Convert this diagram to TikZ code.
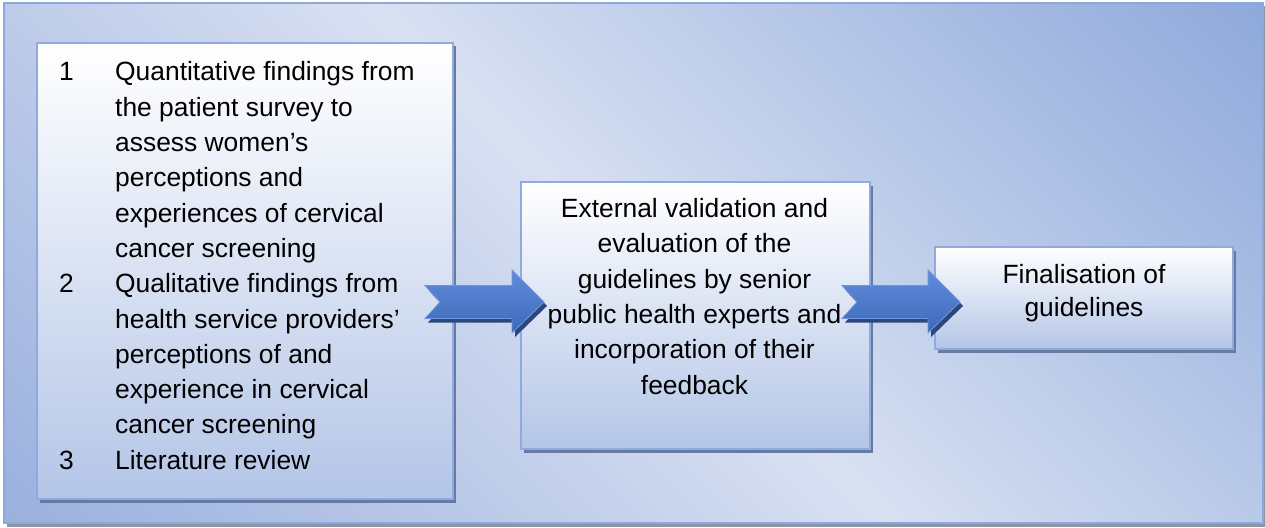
\documentclass[tikz,border=0pt]{standalone}
\usepackage{fontspec}
\setmainfont{Liberation Sans}
\usetikzlibrary{calc,shadows}
\definecolor{bgA}{HTML}{9AB0DE}
\definecolor{bgM}{HTML}{D8E0F2}
\definecolor{bgB}{HTML}{8EA9DB}
\definecolor{frameC}{HTML}{8DA8DB}
\definecolor{frameShadow}{HTML}{8C95A6}
\definecolor{boxBorder}{HTML}{8FAADC}
\definecolor{boxBottom}{HTML}{B4C5E7}
\definecolor{boxShadow}{HTML}{677AA2}
\definecolor{arrTop}{HTML}{608CDA}
\definecolor{arrBot}{HTML}{3D69BB}
\definecolor{arrEdge}{HTML}{6F96DC}
\definecolor{arrShadow}{HTML}{2A4780}
\pgfdeclarehorizontalshading{bgshade}{100bp}{color(0bp)=(bgA); color(14.6bp)=(bgA); color(50bp)=(bgM); color(85.4bp)=(bgB); color(100bp)=(bgB)}
\newcommand\arrowshape[2]{%
  \fill[arrowshadow] ($(#1)+(3,12.5)$) -- ($(#2)+(-29,12.5)$) -- ($(#2)+(-29,28)$) -- ($(#2)+(3,-4)$) -- ($(#2)+(-29,-35)$) -- ($(#2)+(-29,-20.5)$) -- ($(#1)+(3,-20.5)$) -- ($(#1)+(18,-4)$) -- cycle;
  \draw[arrowbody] ($(#1)+(0,16.5)$) -- ($(#2)+(-32,16.5)$) -- ($(#2)+(-32,32)$) -- (#2) -- ($(#2)+(-32,-31)$) -- ($(#2)+(-32,-16.5)$) -- ($(#1)+(0,-16.5)$) -- ($(#1)+(15,0)$) -- cycle;
}
\begin{document}
\begin{tikzpicture}[x=1pt,y=1pt,
  stepbox/.style={draw=boxBorder, line width=2pt, outer sep=0pt, inner sep=0pt,
    top color=white, bottom color=boxBottom,
    drop shadow={shadow xshift=2.5pt, shadow yshift=-3.5pt, fill=boxShadow, opacity=1}},
  body/.style={font=\fontsize{26.4}{35.3}\selectfont, inner sep=0pt, text=black},
  arrowbody/.style={top color=arrTop, bottom color=arrBot, draw=arrEdge, line width=0.8pt, line join=miter},
  arrowshadow/.style={fill=arrShadow}]
\useasboundingbox (0,0) rectangle (1265,-527);
% frame
\fill[frameShadow] (7,-6) rectangle (1266,-527);
\draw[frameC, line width=2pt, shading=bgshade, shading angle=45] (4,-3) rectangle (1263,-523);
% boxes
\node[stepbox, minimum width=416pt, minimum height=456pt] (b1) at (245,-271) {};
\node[stepbox, minimum width=349pt, minimum height=267pt] (b2) at (695.5,-315.5) {};
\node[stepbox, minimum width=298pt, minimum height=102pt] (b3) at (1084,-298) {};
% texts
\node[body, anchor=west] (t1) at (59,-268) {\begin{tabular}{@{}p{56pt}@{}l@{}}
1 & Quantitative findings from\\
  & the patient survey to\\
  & assess women’s\\
  & perceptions and\\
  & experiences of cervical\\
  & cancer screening\\
2 & Qualitative findings from\\
  & health service providers’\\
  & perceptions of and\\
  & experience in cervical\\
  & cancer screening\\
3 & Literature review
\end{tabular}};
\node[body] (t2) at (694.5,-298.8) {\begin{tabular}{@{}c@{}}
External validation and\\
evaluation of the\\
guidelines by senior\\
public health experts and\\
incorporation of their\\
feedback
\end{tabular}};
\node[body, font=\fontsize{26.4}{33.5}\selectfont] (t3) at (1084,-293.3) {\begin{tabular}{@{}c@{}}
Finalisation of\\
guidelines
\end{tabular}};
% arrows
\coordinate (a1s) at ($(b1.east)+(-28,-31)$);
\coordinate (a1e) at ($(b2.west)+(23,13.5)$);
\coordinate (a2s) at ($(b2.east)+(-28,13.5)$);
\coordinate (a2e) at ($(b3.west)+(25,-4)$);
\arrowshape{a1s}{a1e}
\arrowshape{a2s}{a2e}
\end{tikzpicture}
\end{document}
